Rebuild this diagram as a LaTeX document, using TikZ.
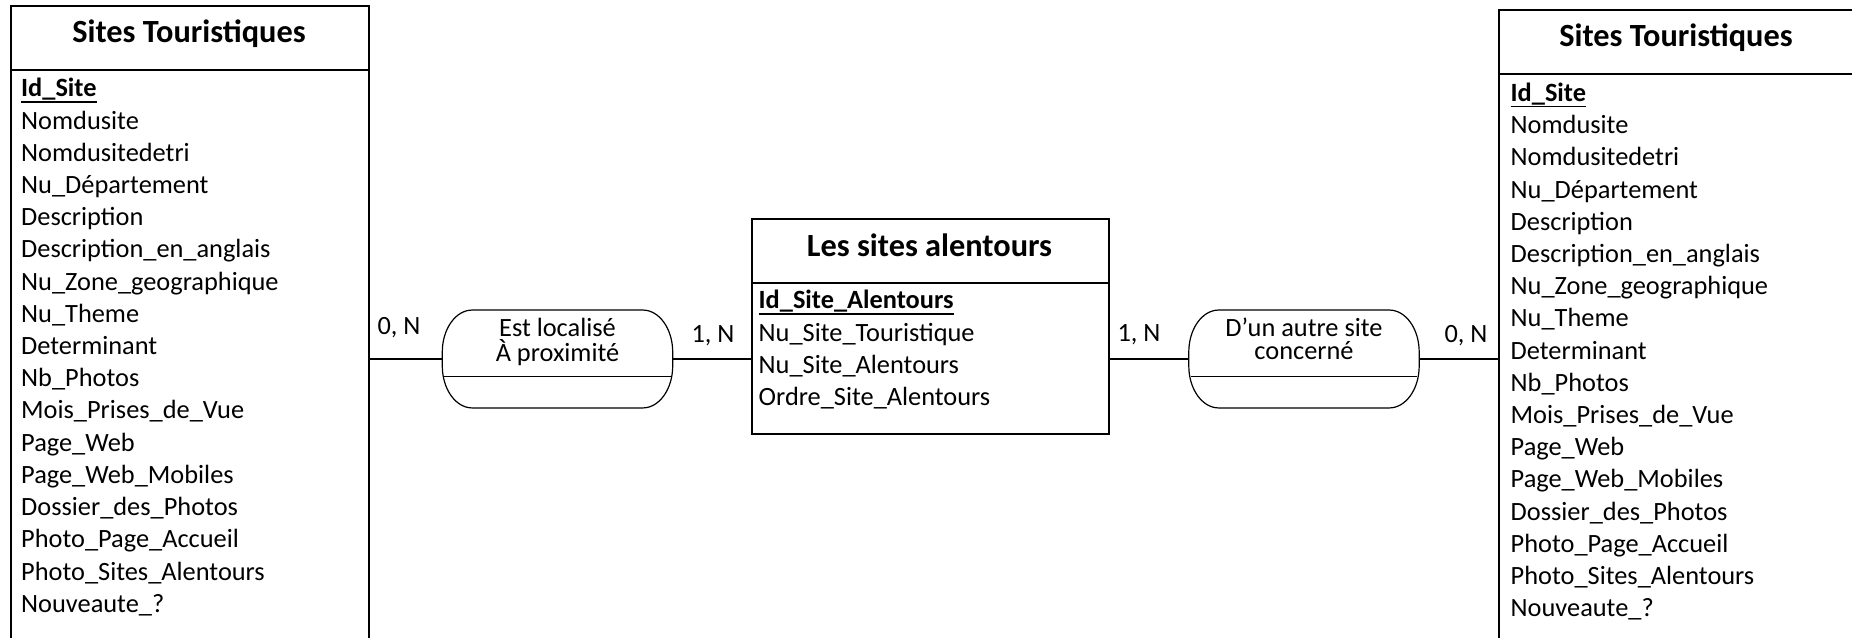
\documentclass[tikz,border=0pt]{standalone}
\usepackage{fontspec}
\setmainfont{Carlito}
\begin{document}
\begin{tikzpicture}[
    entite/.style={draw, rectangle, line width=0.016cm, anchor=north west, inner sep=0pt},
    assoc/.style={rectangle, minimum width=2.29cm, minimum height=0.965cm, inner sep=0pt},
    bord/.style={line width=0.012cm},
    titre/.style={anchor=base, inner sep=0pt, font=\fontsize{9.2}{11}\selectfont\bfseries},
    champ/.style={anchor=base west, inner sep=0pt, font=\fontsize{7.5}{9}\selectfont},
    libel/.style={anchor=base, inner sep=0pt, font=\fontsize{7.5}{9}\selectfont},
    lien/.style={line width=0.014cm}
  ]
  \useasboundingbox (0,0) rectangle (18.52,6.38);
  \clip (0,0) rectangle (18.52,6.38);

  % Entity Sites Touristiques (left), cut by the page bottom
  \node (siteL) [entite, minimum width=3.58cm, minimum height=6.60cm] at (0.10,6.33) {};%
  \draw [line width=0.016cm] ([yshift=-0.65cm]siteL.north west) -- ([yshift=-0.65cm]siteL.north east);%
  \node (siteLt) [titre] at (1.89,5.955) {Sites Touristiques};%
  \node (l0) [champ] at (0.205,5.410) {\underline{\smash{\textbf{Id\_Site}}}};%
  \foreach \nom [count=\k] in {Nomdusite, Nomdusitedetri, Nu\_Département, Description,
      Description\_en\_anglais, Nu\_Zone\_geographique, Nu\_Theme, Determinant, Nb\_Photos,
      Mois\_Prises\_de\_Vue, Page\_Web, Page\_Web\_Mobiles, Dossier\_des\_Photos,
      Photo\_Page\_Accueil, Photo\_Sites\_Alentours, Nouveaute\_?}
    \node (l\k) [champ] at (0.205,5.410-0.322*\k) {\nom};%

  % Entity Sites Touristiques (right), cut by the page edge
  \node (siteR) [entite, minimum width=3.70cm, minimum height=6.60cm] at (14.98,6.29) {};%
  \draw [line width=0.016cm] ([yshift=-0.65cm]siteR.north west) -- ([yshift=-0.65cm]siteR.north east);%
  \node (siteRt) [titre] at (16.76,5.913) {Sites Touristiques};%
  \node (r0) [champ] at (15.10,5.365) {\underline{\smash{\textbf{Id\_Site}}}};%
  \foreach \nom [count=\k] in {Nomdusite, Nomdusitedetri, Nu\_Département, Description,
      Description\_en\_anglais, Nu\_Zone\_geographique, Nu\_Theme, Determinant, Nb\_Photos,
      Mois\_Prises\_de\_Vue, Page\_Web, Page\_Web\_Mobiles, Dossier\_des\_Photos,
      Photo\_Page\_Accueil, Photo\_Sites\_Alentours, Nouveaute\_?}
    \node (r\k) [champ] at (15.10,5.365-0.322*\k) {\nom};%

  % Entity Les sites alentours
  \node (alent) [entite, minimum width=3.57cm, minimum height=2.15cm] at (7.51,4.20) {};%
  \draw [line width=0.016cm] ([yshift=-0.65cm]alent.north west) -- ([yshift=-0.65cm]alent.north east);%
  \node (alentt) [titre] at (9.295,3.81) {Les sites alentours};%
  \node (a0) [champ] at (7.58,3.290) {\underline{\smash{\textbf{Id\_Site\_Alentours}}}};%
  \node (a1) [champ] at (7.58,2.965) {Nu\_Site\_Touristique};%
  \node (a2) [champ] at (7.58,2.645) {Nu\_Site\_Alentours};%
  \node (a3) [champ] at (7.58,2.325) {Ordre\_Site\_Alentours};%

  % Association Est localise
  \node (est) [assoc] at (5.575,2.79) {};%
  \draw [bord] ([xshift=0.30cm]est.north west) -- ([xshift=-0.30cm]est.north east)
    arc[start angle=90, end angle=0, x radius=0.30cm, y radius=0.42cm] -- ([yshift=0.42cm]est.south east)
    arc[start angle=0, end angle=-90, x radius=0.30cm, y radius=0.42cm] -- ([xshift=0.30cm]est.south west)
    arc[start angle=270, end angle=180, x radius=0.30cm, y radius=0.42cm] -- ([yshift=-0.42cm]est.north west)
    arc[start angle=180, end angle=90, x radius=0.30cm, y radius=0.42cm] -- cycle;%
  \draw [bord] ([xshift=0.02cm,yshift=0.315cm]est.south west) -- ([xshift=-0.02cm,yshift=0.315cm]est.south east);%
  \node (est1) [libel] at (5.575,3.013) {Est localisé};%
  \node (est2) [libel] at (5.575,2.763) {À proximité};%

  % Association D'un autre site
  \node (autre) [assoc] at (13.04,2.79) {};%
  \draw [bord] ([xshift=0.30cm]autre.north west) -- ([xshift=-0.30cm]autre.north east)
    arc[start angle=90, end angle=0, x radius=0.30cm, y radius=0.42cm] -- ([yshift=0.42cm]autre.south east)
    arc[start angle=0, end angle=-90, x radius=0.30cm, y radius=0.42cm] -- ([xshift=0.30cm]autre.south west)
    arc[start angle=270, end angle=180, x radius=0.30cm, y radius=0.42cm] -- ([yshift=-0.42cm]autre.north west)
    arc[start angle=180, end angle=90, x radius=0.30cm, y radius=0.42cm] -- cycle;%
  \draw [bord] ([xshift=0.02cm,yshift=0.315cm]autre.south west) -- ([xshift=-0.02cm,yshift=0.315cm]autre.south east);%
  \node (autre1) [libel] at (13.04,3.010) {D’un autre site};%
  \node (autre2) [libel] at (13.04,2.780) {concerné};%

  % Links
  \draw [lien] (est.west) -- (est.west -| siteL.east);%
  \draw [lien] (est.east) -- (est.east -| alent.west);%
  \draw [lien] (alent.east |- autre.west) -- (autre.west);%
  \draw [lien] (autre.east) -- (autre.east -| siteR.west);%

  % Cardinalities
  \node (c1) [libel] at (3.99,3.03) {0, N};%
  \node (c2) [libel] at (7.13,2.95) {1, N};%
  \node (c3) [libel] at (11.39,2.96) {1, N};%
  \node (c4) [libel] at (14.66,2.95) {0, N};%
\end{tikzpicture}
\end{document}
